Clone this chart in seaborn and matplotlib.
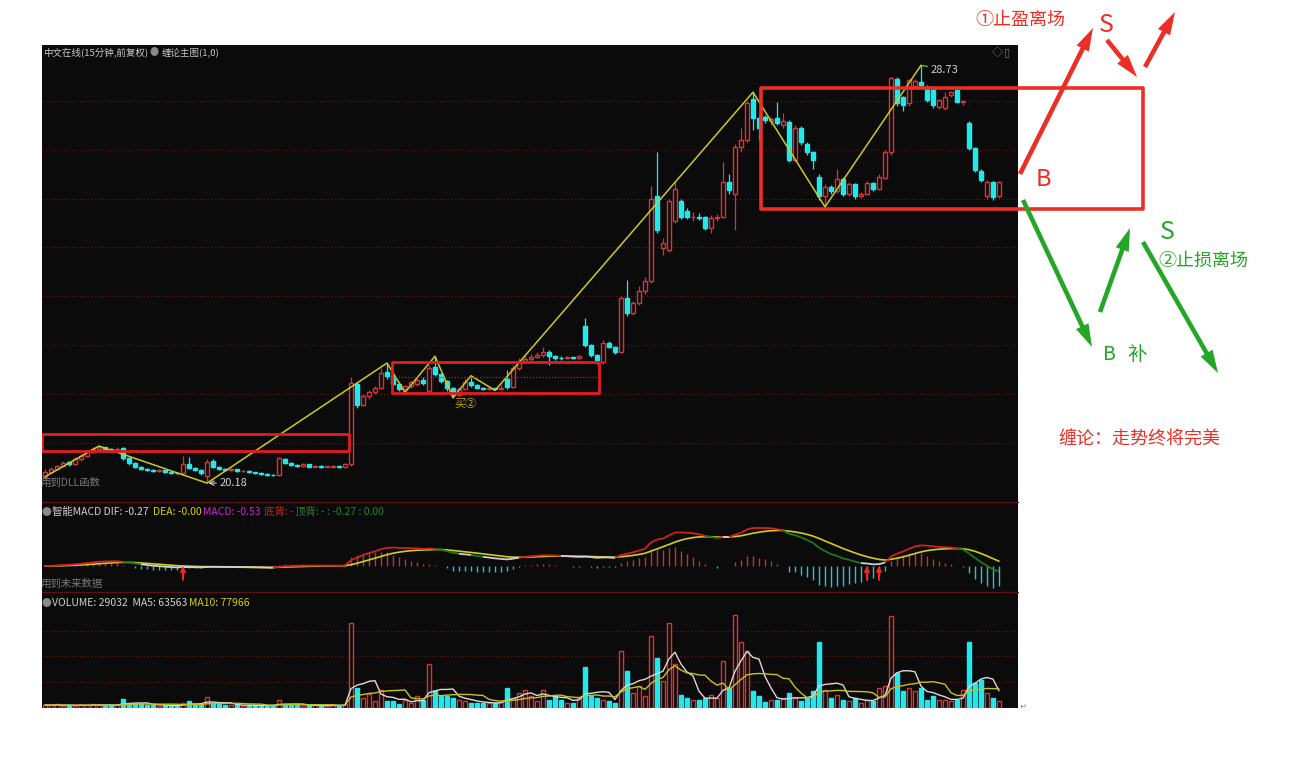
import numpy as np
import pandas as pd
import matplotlib
matplotlib.use("Agg")
import matplotlib.pyplot as plt
import seaborn as sns
from matplotlib.patches import Rectangle, FancyArrowPatch
from matplotlib.collections import LineCollection

# ---------------- data (15-minute candles, forward adjusted) ----------------
opens = [20.30, 20.40, 20.46, 20.52, 20.60, 20.56, 20.66, 20.72, 20.80, 20.86,
         20.90, 20.86, 20.84, 20.88, 20.68, 20.58, 20.50, 20.46, 20.44, 20.41,
         20.43, 20.40, 20.38, 20.37, 20.56, 20.47, 20.44, 20.32, 20.62, 20.50,
         20.45, 20.43, 20.45, 20.41, 20.42, 20.39, 20.37, 20.36, 20.34, 20.33,
         20.67, 20.58, 20.55, 20.53, 20.56, 20.51, 20.53, 20.50, 20.51, 20.52,
         20.50, 20.56, 22.20, 21.78, 21.95, 22.04, 22.12, 22.45, 22.36, 22.20,
         22.09, 22.16, 22.20, 22.28, 22.05, 22.55, 22.40, 22.27, 22.12, 21.98,
         22.10, 22.24, 22.18, 22.12, 22.09, 22.11, 22.09, 22.30, 22.13, 22.52,
         22.68, 22.72, 22.76, 22.80, 22.86, 22.78, 22.74, 22.73, 22.75, 22.74,
         23.38, 23.00, 22.80, 22.66, 23.05, 22.96, 22.86, 23.96, 23.66, 23.86,
         24.10, 24.32, 26.05, 24.98, 24.95, 25.55, 25.95, 25.75, 25.62, 25.63,
         25.62, 25.40, 25.60, 25.63, 26.35, 26.10, 27.05, 27.20, 28.05, 27.65,
         27.67, 27.58, 27.65, 27.50, 27.56, 26.80, 27.45, 27.12, 26.96, 26.45,
         26.05, 26.24, 26.16, 26.40, 26.10, 26.30, 26.06, 26.10, 26.32, 26.20,
         26.42, 26.95, 28.46, 28.08, 27.95, 28.30, 28.39, 28.29, 28.23, 27.88,
         27.86, 28.12, 28.23, 27.97, 27.55, 27.04, 26.56, 26.05, 26.34, 26.05]
closes = [20.40, 20.46, 20.52, 20.58, 20.56, 20.66, 20.72, 20.80, 20.86, 20.91,
          20.86, 20.84, 20.87, 20.68, 20.58, 20.50, 20.46, 20.44, 20.41, 20.43,
          20.40, 20.38, 20.37, 20.56, 20.47, 20.44, 20.38, 20.60, 20.50, 20.45,
          20.43, 20.45, 20.41, 20.42, 20.39, 20.37, 20.36, 20.34, 20.33, 20.68,
          20.58, 20.55, 20.53, 20.56, 20.51, 20.53, 20.50, 20.51, 20.52, 20.50,
          20.56, 22.22, 21.78, 21.95, 22.04, 22.12, 22.42, 22.36, 22.20, 22.09,
          22.16, 22.24, 22.28, 22.22, 22.52, 22.40, 22.27, 22.12, 21.98, 22.10,
          22.25, 22.18, 22.12, 22.09, 22.11, 22.09, 22.12, 22.13, 22.52, 22.68,
          22.72, 22.76, 22.80, 22.86, 22.78, 22.74, 22.73, 22.75, 22.74, 22.78,
          23.00, 22.80, 22.70, 23.05, 22.96, 22.86, 23.96, 23.66, 23.86, 24.10,
          24.32, 26.00, 25.35, 25.10, 25.95, 26.20, 25.62, 25.62, 25.63, 25.61,
          25.40, 25.60, 25.63, 26.35, 26.18, 27.05, 27.20, 27.95, 27.65, 27.45,
          27.60, 27.63, 27.55, 27.58, 26.80, 27.45, 27.15, 26.96, 26.80, 26.05,
          26.24, 26.16, 26.40, 26.10, 26.30, 26.06, 26.10, 26.32, 26.20, 26.45,
          26.95, 28.48, 27.96, 27.92, 28.42, 28.40, 28.33, 28.02, 27.92, 28.02,
          28.08, 28.18, 27.98, 28.00, 27.04, 26.59, 26.38, 26.34, 26.04, 26.33]
highs = [20.45, 20.50, 20.55, 20.62, 20.63, 20.70, 20.76, 20.84, 20.90, 20.93,
         20.92, 20.88, 20.90, 20.90, 20.70, 20.60, 20.52, 20.48, 20.46, 20.45,
         20.44, 20.42, 20.40, 20.72, 20.70, 20.49, 20.46, 20.66, 20.67, 20.52,
         20.47, 20.47, 20.46, 20.44, 20.43, 20.40, 20.39, 20.37, 20.36, 20.70,
         20.69, 20.60, 20.57, 20.58, 20.57, 20.55, 20.54, 20.53, 20.54, 20.53,
         20.58, 22.35, 22.25, 22.00, 22.08, 22.16, 22.52, 22.63, 22.38, 22.22,
         22.19, 22.27, 22.32, 22.34, 22.60, 22.77, 22.42, 22.29, 22.14, 22.13,
         22.30, 22.37, 22.20, 22.14, 22.13, 22.12, 22.20, 22.48, 22.58, 22.74,
         22.80, 22.82, 22.86, 22.95, 22.90, 22.80, 22.77, 22.77, 22.76, 22.80,
         23.55, 23.02, 22.82, 23.10, 23.08, 22.98, 24.00, 24.33, 23.90, 24.20,
         24.40, 26.25, 26.95, 25.20, 26.00, 26.35, 26.00, 25.80, 25.72, 25.70,
         25.65, 25.66, 25.68, 26.75, 26.50, 27.12, 27.45, 28.00, 28.18, 27.70,
         27.72, 27.68, 27.98, 27.75, 27.60, 27.50, 27.48, 27.15, 26.98, 26.50,
         26.30, 26.28, 26.60, 26.45, 26.35, 26.32, 26.14, 26.36, 26.34, 26.50,
         27.00, 28.50, 28.50, 28.10, 28.45, 28.45, 28.73, 28.32, 28.26, 28.05,
         28.18, 28.20, 28.25, 28.02, 27.58, 27.06, 26.60, 26.38, 26.36, 26.36]
lows = [20.26, 20.37, 20.44, 20.50, 20.53, 20.55, 20.63, 20.70, 20.78, 20.84,
        20.83, 20.80, 20.82, 20.64, 20.55, 20.47, 20.43, 20.41, 20.39, 20.39,
        20.38, 20.36, 20.35, 20.34, 20.45, 20.42, 20.33, 20.17, 20.48, 20.43,
        20.41, 20.41, 20.39, 20.39, 20.37, 20.35, 20.34, 20.32, 20.31, 20.31,
        20.56, 20.53, 20.51, 20.51, 20.49, 20.50, 20.48, 20.49, 20.49, 20.48,
        20.48, 20.52, 21.70, 21.74, 21.90, 22.00, 22.10, 22.30, 22.15, 22.05,
        22.03, 22.12, 22.16, 22.18, 22.03, 22.36, 22.22, 22.05, 21.92, 21.95,
        22.08, 22.14, 22.09, 22.07, 22.07, 22.07, 22.08, 22.10, 22.11, 22.48,
        22.64, 22.68, 22.73, 22.76, 22.60, 22.70, 22.70, 22.71, 22.72, 22.72,
        22.95, 22.76, 22.62, 22.62, 22.93, 22.82, 22.84, 23.60, 23.62, 23.82,
        24.05, 24.28, 25.30, 24.85, 24.90, 25.50, 25.58, 25.58, 25.55, 25.56,
        25.35, 25.30, 25.55, 25.60, 26.10, 25.35, 26.95, 27.15, 27.40, 27.20,
        27.55, 27.50, 27.50, 27.45, 26.75, 26.78, 27.10, 26.90, 26.60, 25.98,
        25.83, 26.10, 26.12, 26.05, 26.06, 26.00, 26.02, 26.07, 26.16, 26.18,
        26.40, 26.90, 27.90, 27.80, 27.90, 28.25, 28.28, 27.98, 27.85, 27.84,
        27.82, 28.08, 27.95, 27.92, 27.00, 26.55, 26.34, 26.00, 25.98, 26.02]
volumes = [12000, 10000, 14000, 9000, 11000, 8000, 13000, 10000, 16000, 12000,
           9000, 11000, 10000, 35000, 20000, 18000, 14000, 12000, 10000, 9000,
           11000, 8000, 10000, 18000, 27000, 15000, 12000, 43000, 20000, 14000,
           12000, 10000, 11000, 9000, 12000, 10000, 8000, 9000, 11000, 31000,
           14000, 12000, 10000, 9000, 11000, 10000, 8000, 9000, 12000, 10000,
           14000, 330000, 78000, 40000, 55000, 27000, 70000, 27000, 27000, 16000,
           31000, 20000, 47000, 30000, 170000, 66000, 47000, 47000, 39000, 31000,
           27000, 20000, 20000, 20000, 20000, 18000, 24000, 78000, 39000, 59000,
           70000, 47000, 27000, 70000, 31000, 47000, 31000, 20000, 20000, 39000,
           160000, 47000, 39000, 31000, 27000, 20000, 220000, 145000, 59000, 86000,
           47000, 280000, 195000, 105000, 330000, 172000, 51000, 39000, 31000, 31000,
           39000, 51000, 39000, 183000, 78000, 360000, 255000, 222000, 66000, 47000,
           24000, 31000, 31000, 39000, 59000, 39000, 27000, 39000, 66000, 255000,
           70000, 39000, 51000, 31000, 27000, 39000, 20000, 31000, 27000, 78000,
           86000, 355000, 137000, 66000, 78000, 66000, 78000, 31000, 47000, 31000,
           31000, 27000, 31000, 70000, 255000, 98000, 109000, 59000, 39000, 29032]

# Chan-theory stroke pivots (candle index, price)
zz_idx = [0, 9, 27, 57, 60, 65, 68, 71, 75, 118, 130, 146]
zz_price = [20.30, 20.93, 20.17, 22.63, 22.03, 22.77, 21.92, 22.37, 22.07, 28.18, 25.83, 28.73]

# pivot zones: start idx, end idx, low, high
zone_x0 = [-0.5, 57.8, 119.3]
zone_x1 = [50.7, 92.3, 183.0]
zone_lo = [20.83, 22.02, 25.79]
zone_hi = [21.18, 22.65, 28.27]
zone2_mid = 22.34

price_grid = [21, 22, 23, 24, 25, 26, 27, 28]
vol_grid = [100000, 200000, 300000]
macd_signal_idx = [23, 137, 139]

# ---------------- style ----------------
sns.set_theme(style="dark")
plt.rcParams['font.family'] = ['Noto Sans CJK SC', 'DejaVu Sans']
plt.rcParams['axes.unicode_minus'] = False

BG = '#0b0b0b'
RED = '#d83434'
CYAN = '#1fe8ee'
GRID = '#6a1414'
SEP = '#5c1010'
ANN_RED = '#ec2e24'
ANN_GREEN = '#26a626'

W, H = 1290, 764
fig = plt.figure(figsize=(W / 100, H / 100), dpi=100, facecolor='white')


def panel(top, bottom):
    ax = fig.add_axes([42 / W, (H - bottom) / H, 976 / W, (bottom - top) / H])
    ax.set_facecolor(BG)
    ax.set_xticks([])
    ax.set_yticks([])
    for s in ax.spines.values():
        s.set_visible(False)
    return ax


ax_main = panel(45, 502)
ax_macd = panel(502, 592)
ax_vol = panel(592, 708)

x = np.arange(len(closes))
o = np.array(opens)
c = np.array(closes)
h = np.array(highs)
l = np.array(lows)
edge = np.where(c > o, RED, np.where(c < o, CYAN, '#dcdcdc'))
face = np.where(c > o, BG, edge)

# ---------------- main candle panel ----------------
for p in price_grid:
    ax_main.axhline(p, color=GRID, lw=0.9, ls=(0, (1, 2)), zorder=1)
ax_main.vlines(x, l, h, colors=edge, lw=0.9, zorder=2)
ax_main.bar(x, np.maximum(np.abs(c - o), 0.012), bottom=np.minimum(o, c), width=0.66,
            color=face, edgecolor=edge, linewidth=1.0, zorder=3)

sns.lineplot(x=zz_idx, y=zz_price, ax=ax_main, color='#cdc826', lw=1.1, sort=False,
             estimator=None, zorder=4)

for k in range(3):
    lw = 2.6 if k == 2 else 2.0
    col = ANN_RED if k == 2 else '#e41c1c'
    ax_main.add_patch(Rectangle((zone_x0[k], zone_lo[k]), zone_x1[k] - zone_x0[k],
                                zone_hi[k] - zone_lo[k], fill=False, ec=col, lw=lw,
                                joinstyle='round', clip_on=(k != 2), zorder=5))
ax_main.plot([zone_x0[1], zone_x1[1]], [zone2_mid, zone2_mid], color='#c02020', lw=0.9,
             ls=(0, (1, 1.5)), zorder=5)

ax_main.annotate('20.18', xy=(27, 20.17), xytext=(9, 0), textcoords='offset points',
                 va='center', ha='left', color='#cfcfcf', fontsize=8,
                 arrowprops=dict(arrowstyle='->', color='#cfcfcf', lw=0.8, shrinkA=0, shrinkB=1))
ax_main.annotate('28.73', xy=(146, 28.73), xytext=(7, -3), textcoords='offset points',
                 va='center', ha='left', color='#cfcfcf', fontsize=8,
                 arrowprops=dict(arrowstyle='-', color='#3cc83c', lw=1.0, shrinkA=0, shrinkB=0))
ax_main.text(68.3, 21.90, '买②', color='#c8a400', fontsize=8, ha='left', va='top', zorder=6)

ax_main.set_xlim(-0.5, 162.17)
ax_main.set_ylim(19.783, 29.147)
ax_main.set_xlabel('')
ax_main.set_ylabel('')

# ---------------- MACD panel ----------------
cs = pd.Series(closes)
dif = cs.ewm(span=12, adjust=False).mean() - cs.ewm(span=26, adjust=False).mean()
dea = dif.ewm(span=9, adjust=False).mean()
hist = 2 * (dif - dea)
ax_macd.vlines(x, 0, hist, colors=np.where(hist >= 0, '#b43a3a', '#2cc4cc'), lw=1.0, zorder=2)

dv = dif.values
ev = dea.values
segs, cols = [], []
for i in range(len(dv) - 1):
    segs.append([(x[i], dv[i]), (x[i + 1], dv[i + 1])])
    if dv[i + 1] >= ev[i + 1]:
        cols.append('#d42020')
    elif dv[i + 1] - dv[i] < -0.02:
        cols.append('#1c7a1c')
    else:
        cols.append('#d0d0d0')
ax_macd.add_collection(LineCollection(segs, colors=cols, linewidths=1.3, zorder=4))
sns.lineplot(x=x, y=dea.values, ax=ax_macd, color='#d0cc20', lw=1.2, zorder=3)

for i in macd_signal_idx:
    ax_macd.annotate('', xy=(i, 0), xytext=(0, -10), textcoords='offset points',
                     arrowprops=dict(arrowstyle='-|>', color='#ff2020', lw=1.4,
                                     mutation_scale=7, shrinkA=0, shrinkB=0), zorder=6)

M = float(max(dif.max(), dea.max()))
ax_macd.set_xlim(-0.5, 162.17)
ax_macd.set_ylim(-M * 26 / 38, M * 64 / 38)
ax_macd.set_xlabel('')
ax_macd.set_ylabel('')

# ---------------- volume panel ----------------
vs = pd.Series(volumes)
ma5 = vs.rolling(5, min_periods=1).mean()
ma10 = vs.rolling(10, min_periods=1).mean()
for v in vol_grid:
    ax_vol.axhline(v, color=GRID, lw=0.9, ls=(0, (1, 2)), zorder=1)
ax_vol.bar(x, volumes, width=0.66, color=face, edgecolor=edge, linewidth=1.0, zorder=2)
sns.lineplot(x=x, y=ma5.values, ax=ax_vol, color='#d8d8d8', lw=1.0, zorder=3)
sns.lineplot(x=x, y=ma10.values, ax=ax_vol, color='#c8c020', lw=1.0, zorder=3)
ax_vol.set_xlim(-0.5, 162.17)
ax_vol.set_ylim(0, 450000)
ax_vol.set_xlabel('')
ax_vol.set_ylabel('')

# ---------------- overlay: headers and hand-drawn annotations ----------------
ov = fig.add_axes([0, 0, 1, 1], facecolor='none')
ov.set_xlim(0, W)
ov.set_ylim(H, 0)
ov.axis('off')

# panel separators
ov.plot([42, 1018], [502, 502], color=SEP, lw=1.0)
ov.plot([42, 1018], [592, 592], color=SEP, lw=1.0)


def t(xp, yp, s, col, fs=7.5, **kw):
    ov.text(xp, yp, s, color=col, fontsize=fs, va='center', ha=kw.pop('ha', 'left'), **kw)


t(43, 52, '中文在线(15分钟,前复权)', '#c8c8c8', 6.8)
t(150, 52, '●', '#8a8a8a', 6.5)
t(162, 52, '缠论主图(1,0)', '#c8c8c8', 6.8)
t(992, 52, '◇', '#777777', 8)
t(1004, 52, '▯', '#777777', 8)
t(41, 483, '用到DLL函数', '#7a7a7a')

t(42, 512, '●', '#8a8a8a', 7)
t(52, 512, '智能MACD DIF: -0.27', '#d0d0d0')
t(153, 512, 'DEA: -0.00', '#d4d000')
t(203, 512, 'MACD: -0.53', '#d020d0')
t(264, 512, '底背: -', '#c82020')
t(295, 512, '顶背: - : -0.27 : 0.00', '#1f8a1f')
t(41, 584, '用到未来数据', '#7a7a7a')

t(42, 603, '●', '#8a8a8a', 7)
t(52, 603, 'VOLUME: 29032  MA5: 63563', '#d0d0d0')
t(189, 603, 'MA10: 77966', '#d4d000')
t(1020, 706, '↵', '#888888', 6)

# right-side notes
t(975, 20, '①止盈离场', ANN_RED, 13)
t(1106, 25, 'S', ANN_RED, 18, ha='center')
t(1043, 180, 'B', ANN_RED, 17, ha='center')
t(1167, 232, 'S', ANN_GREEN, 18, ha='center')
t(1158, 261, '②止损离场', ANN_GREEN, 13)
t(1109, 354, 'B', ANN_GREEN, 14, ha='center')
t(1137, 354, '补', ANN_GREEN, 14, ha='center')
t(1058, 439, '缠论：走势终将完美', ANN_RED, 13)

arrow_style = 'simple,head_width=0.9,head_length=1.5,tail_width=0.3'
red_arrows = [((1020, 174), (1093, 28)), ((1107, 40), (1137, 77)), ((1145, 67), (1175, 12))]
green_arrows = [((1023, 200), (1092, 347)), ((1100, 312), (1130, 228)), ((1143, 242), (1218, 373))]
for (a, b) in red_arrows:
    ov.add_patch(FancyArrowPatch(a, b, arrowstyle=arrow_style, mutation_scale=11,
                                 color=ANN_RED, lw=0, shrinkA=0, shrinkB=0))
for (a, b) in green_arrows:
    ov.add_patch(FancyArrowPatch(a, b, arrowstyle=arrow_style, mutation_scale=11,
                                 color=ANN_GREEN, lw=0, shrinkA=0, shrinkB=0))

fig.savefig('out.png', dpi=100, facecolor='white')
